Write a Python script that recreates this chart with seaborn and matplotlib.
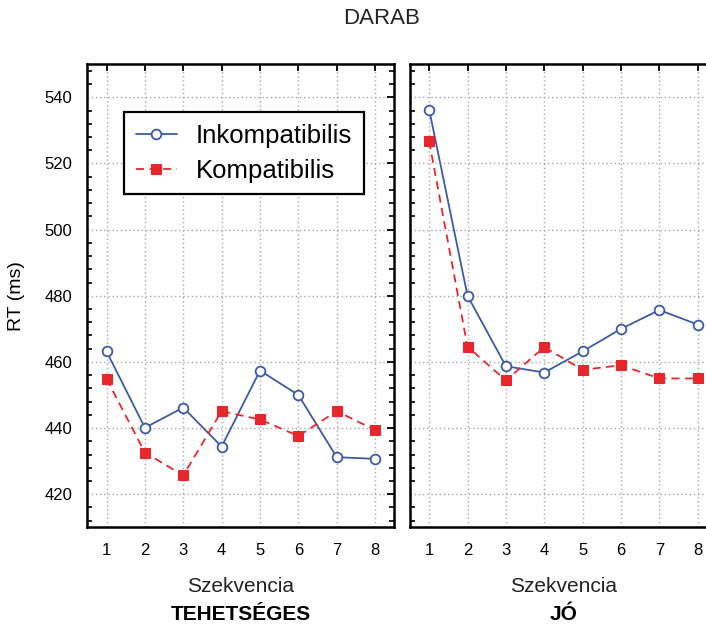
import matplotlib
matplotlib.use("Agg")
import matplotlib.pyplot as plt
import seaborn as sns
import pandas as pd
from matplotlib.ticker import MultipleLocator

# ---- data ----
szekvencia = [1, 2, 3, 4, 5, 6, 7, 8]
groups = ["TEHETSÉGES", "JÓ"]
series_names = ["Inkompatibilis", "Kompatibilis"]

teh_inkompatibilis = [463.2, 440.1, 446.2, 434.4, 457.4, 450.0, 431.2, 430.7]
teh_kompatibilis = [454.9, 432.6, 425.7, 445.1, 442.6, 437.6, 445.1, 439.4]
jo_inkompatibilis = [536.3, 480.0, 458.7, 456.8, 463.2, 470.0, 475.7, 471.3]
jo_kompatibilis = [526.7, 464.6, 454.4, 464.5, 457.6, 459.0, 455.0, 455.0]

y_ticks = [420, 440, 460, 480, 500, 520, 540]

values = {
    "TEHETSÉGES": {"Inkompatibilis": teh_inkompatibilis, "Kompatibilis": teh_kompatibilis},
    "JÓ": {"Inkompatibilis": jo_inkompatibilis, "Kompatibilis": jo_kompatibilis},
}

rows = []
for g in groups:
    for s in series_names:
        for x, v in zip(szekvencia, values[g][s]):
            rows.append({"group": g, "series": s, "Szekvencia": x, "RT": v})
df = pd.DataFrame(rows)

# ---- style ----
sns.set_style("white")
plt.rcParams["font.family"] = ["Liberation Sans", "DejaVu Sans"]
for k in ["text.color", "axes.labelcolor", "xtick.color", "ytick.color"]:
    plt.rcParams[k] = "black"

BLUE = "#3c5aa8"
RED = "#e8262b"

fig = plt.figure(figsize=(7.06, 6.27), dpi=100)
ax1 = fig.add_axes([0.1237, 0.159, 0.4348, 0.7385])
ax2 = fig.add_axes([0.5807, 0.159, 0.4348, 0.7385])

styles = {
    "Inkompatibilis": dict(color=BLUE, marker="o", markerfacecolor="white",
                           markeredgecolor=BLUE, markeredgewidth=1.3, markersize=7,
                           linestyle="-", linewidth=1.3),
    "Kompatibilis": dict(color=RED, marker="s", markerfacecolor=RED,
                         markeredgecolor=RED, markersize=7, linestyle=(0, (4.5, 3)),
                         linewidth=1.3),
}

for ax, g in zip([ax1, ax2], groups):
    sub = df[df["group"] == g]
    for s in series_names:
        d = sub[sub["series"] == s]
        sns.lineplot(data=d, x="Szekvencia", y="RT", ax=ax, label=s,
                     legend=False, clip_on=False, zorder=3, **styles[s])
    ax.set_xlim(0.5, 8.5)
    ax.set_ylim(410, 550)
    ax.set_xticks(szekvencia)
    ax.set_yticks(y_ticks)
    ax.yaxis.set_minor_locator(MultipleLocator(4))
    ax.grid(True, which="major", color="#a8a8a8", linestyle=(0, (1, 2)), linewidth=1.0)
    ax.tick_params(axis="both", which="major", direction="in", length=5, width=1.3,
                   top=True, right=True, labelsize=12, pad=11, colors="black")
    ax.tick_params(axis="y", which="minor", direction="in", length=3.5, width=1.2,
                   left=True, right=True)
    for sp in ax.spines.values():
        sp.set_color("black")
        sp.set_linewidth(1.8)
    ax.set_xlabel("")
    ax.set_ylabel("")
    ax.text(0.5, -0.127, "Szekvencia", transform=ax.transAxes, ha="center",
            va="center", fontsize=15, color="#222222")
    ax.text(0.5, -0.188, g, transform=ax.transAxes, ha="center", va="center",
            fontsize=15, fontweight="bold", color="black")

ax2.tick_params(axis="y", which="both", labelleft=False)
ax1.set_ylabel("RT (ms)", fontsize=14, color="black")
ax1.yaxis.set_label_coords(-0.203, 0.5)

handles, labels = ax1.get_legend_handles_labels()
leg = ax1.legend(handles, labels, loc="upper left", bbox_to_anchor=(0.1195, 0.896),
                 fontsize=18.5, frameon=True, fancybox=False, shadow=False,
                 handlelength=1.6, handletextpad=0.75, borderpad=0.45,
                 labelspacing=0.42, borderaxespad=0)
leg.get_frame().set_edgecolor("black")
leg.get_frame().set_linewidth(1.6)
leg.get_frame().set_alpha(1)
for t in leg.get_texts():
    t.set_color("black")

fig.text(0.541, 0.970, "DARAB", ha="center", va="center", fontsize=16, color="#222222")

fig.savefig("out.png", dpi=100)
